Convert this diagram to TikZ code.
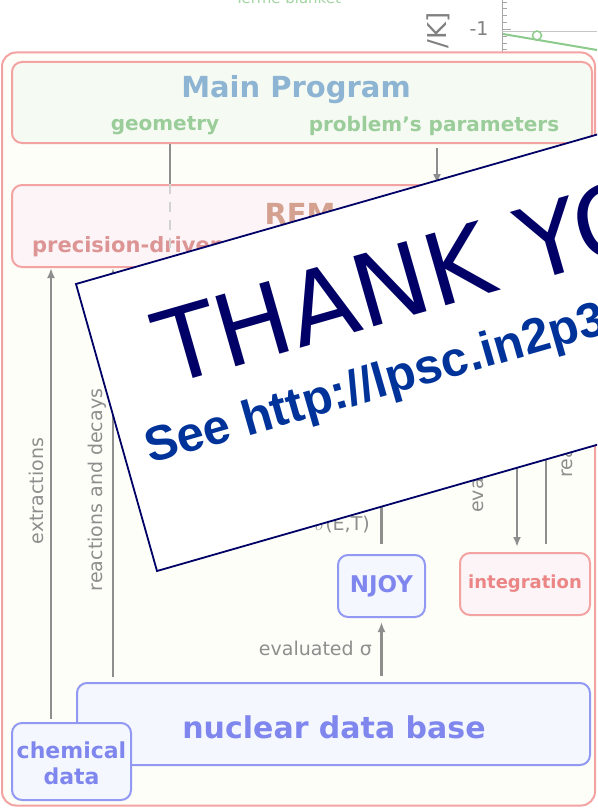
\documentclass[tikz,border=0pt]{standalone}
\usepackage{fontspec}
\setmainfont{DejaVu Sans}
\newfontfamily\urlfont{Liberation Sans}
\usetikzlibrary{arrows.meta}
\definecolor{salmonc}{HTML}{F4A3A3}
\definecolor{creamc}{HTML}{FEFEF8}
\definecolor{greenfill}{HTML}{F5FAF2}
\definecolor{pinkfill}{HTML}{FCF4F6}
\definecolor{bluefill}{HTML}{F4F7FE}
\definecolor{blueline}{HTML}{9199F2}
\definecolor{bluetext}{HTML}{7F87EE}
\definecolor{steelc}{HTML}{8DB4D2}
\definecolor{greentext}{HTML}{9ACD9A}
\definecolor{remtext}{HTML}{D4A090}
\definecolor{rosetext}{HTML}{DC9494}
\definecolor{integtext}{HTML}{EC8585}
\definecolor{arrowc}{HTML}{8E8E8E}
\definecolor{navyc}{HTML}{000066}
\definecolor{urlc}{HTML}{003399}
\definecolor{plotgreen}{HTML}{8CCB8C}
\tikzset{
  boxbase/.style={rounded corners=10pt, line width=2pt, inner sep=0pt},
  outerbox/.style={boxbase, rounded corners=14pt, draw=salmonc, fill=creamc},
  mainbox/.style={boxbase, draw=salmonc, fill=greenfill},
  pinkbox/.style={boxbase, draw=salmonc, fill=pinkfill},
  bluebox/.style={boxbase, draw=blueline, fill=bluefill},
  garrow/.style={draw=arrowc, line width=2.5pt, -{Latex[length=10pt,width=8pt]}},
  gline/.style={draw=arrowc, line width=2.5pt},
  glabel/.style={text=arrowc, font=\fontsize{19}{19}\selectfont, inner sep=0pt},
  bluelabel/.style={text=bluetext, font=\bfseries\fontsize{22}{26}\selectfont, inner sep=0pt, align=center},
}
\begin{document}
\begin{tikzpicture}[x=1pt,y=-1pt]
\useasboundingbox (0,0) rectangle (597,808);
\clip (0,0) rectangle (597,808);
\fill[white] (0,0) rectangle (597,808);
% background fragment of a plot
\node[text=plotgreen!80!white, font=\fontsize{15}{15}\selectfont, anchor=base, inner sep=0pt] (blanket) at (288,4) {Terme blanket};
\draw[gray!70, line width=1pt] (502,0) -- (502,60);
\foreach \yy in {3,9,16,23,37,44,50} \draw[gray!70, line width=1pt] (502,\yy) -- (507,\yy);
\draw[gray!70, line width=1pt] (502,30) -- (511,30);
\draw[gray!45, line width=0.8pt] (502,31) -- (597,31);
\draw[plotgreen, line width=2pt] (503,34) -- (597,50);
\draw[plotgreen, line width=1.5pt, fill=white] (537,35.5) circle (4.5);
\node[text=gray, font=\fontsize{19}{19}\selectfont, inner sep=0pt] (mone) at (479,29) {-1};
\node[text=gray, font=\fontsize{26}{26}\selectfont, inner sep=0pt, rotate=90, anchor=east] (unit) at (438,12) {/K]};
% frame
\node[outerbox, minimum width=593pt, minimum height=753pt] (outer) at (298.5,429) {};
% boxes
\node[mainbox, minimum width=580pt, minimum height=81pt] (main) at (302,102.5) {};
\node[text=steelc, font=\bfseries\fontsize{29}{29}\selectfont, inner sep=0pt] (mp) at (296,90) {Main Program};
\node[text=greentext, font=\bfseries\fontsize{20}{20}\selectfont, inner sep=0pt] (geo) at (165,126) {geometry};
\node[text=greentext, font=\bfseries\fontsize{20}{20}\selectfont, inner sep=0pt] (par) at (434,126) {problem's parameters};
\node[pinkbox, minimum width=580pt, minimum height=82pt] (rem) at (302,226) {};
\node[text=remtext, font=\bfseries\fontsize{29}{29}\selectfont, inner sep=0pt] (remt) at (300,214) {REM};
\node[text=rosetext, font=\bfseries\fontsize{21}{21}\selectfont, inner sep=0pt, anchor=west] (prec) at (32,247) {precision-driven};
\node[bluebox, minimum width=87pt, minimum height=62pt] (njoy) at (381.5,586) {};
\node[text=bluetext, font=\bfseries\fontsize{23}{23}\selectfont, inner sep=0pt] (njoyt) at (381.5,586) {NJOY};
\node[pinkbox, minimum width=130pt, minimum height=62pt] (integ) at (525,584) {};
\node[text=integtext, font=\bfseries\fontsize{18}{18}\selectfont, inner sep=0pt] (integt) at (525,584) {integration};
\node[bluebox, minimum width=513pt, minimum height=82pt] (ndb) at (333.5,724) {};
\node[text=bluetext, font=\bfseries\fontsize{30}{30}\selectfont, inner sep=0pt] (ndbt) at (334,727) {nuclear data base};
\node[bluebox, minimum width=119pt, minimum height=77pt] (chem) at (71.5,761.5) {};
\node[bluelabel] (chemt) at (71.5,763) {chemical\\data};
% connectors
\draw[gline] (main.south -| 170,0) -- (rem.north -| 170,0);
\draw[gray!35, line width=2pt, dashed, dash pattern=on 10pt off 8pt] (rem.north -| 170,0) -- (rem.south -| 170,0);
\draw[garrow, shorten <=4pt] (main.south -| 437,0) -- (rem.north -| 437,0);
\draw[garrow, shorten <=3pt] (chem.north -| 51,0) -- (rem.south -| 51,0);
\draw[garrow, shorten <=5pt] (ndb.north -| 113,0) -- (rem.south -| 113,0);
\draw[garrow, shorten <=10pt] (njoy.north) -- (rem.south -| njoy.north);
\draw[garrow, shorten <=6pt, shorten >=4pt] (ndb.north -| njoy.south) -- (njoy.south);
\draw[garrow, shorten >=5pt] (rem.south -| 517,0) -- (integ.north -| 517,0);
\draw[garrow, shorten <=8pt] (integ.north -| 546,0) -- (rem.south -| 546,0);
% connector labels
\node[glabel, rotate=90] (lext) at (36,491) {extractions};
\node[glabel, rotate=90] (lreac) at (97,490) {reactions and decays};
\node[glabel, anchor=east] (lsig) at (370,525) {$\sigma$(E,T)};
\node[glabel, rotate=90, anchor=west] (leva) at (476,513) {evaluated};
\node[glabel, rotate=90, anchor=west] (lre) at (565,478) {reaction rates};
\node[glabel, anchor=east] (levs) at (372,648) {evaluated σ};
% overlay sheet
\draw[line width=1.8pt, draw=navyc, fill=white] (76,284) -- (157,571) -- (830,378) -- (749,91) -- cycle;
\node[anchor=base west, rotate=16, text=navyc, font=\fontsize{100}{100}\selectfont, inner sep=0pt] (thanks) at (168,386) {THANK YOU};
\node[anchor=base west, rotate=16, text=urlc, font=\urlfont\bfseries\fontsize{49}{49}\selectfont, inner sep=0pt] (see) at (150,464) {See http://lpsc.in2p3.fr};
\end{tikzpicture}
\end{document}
